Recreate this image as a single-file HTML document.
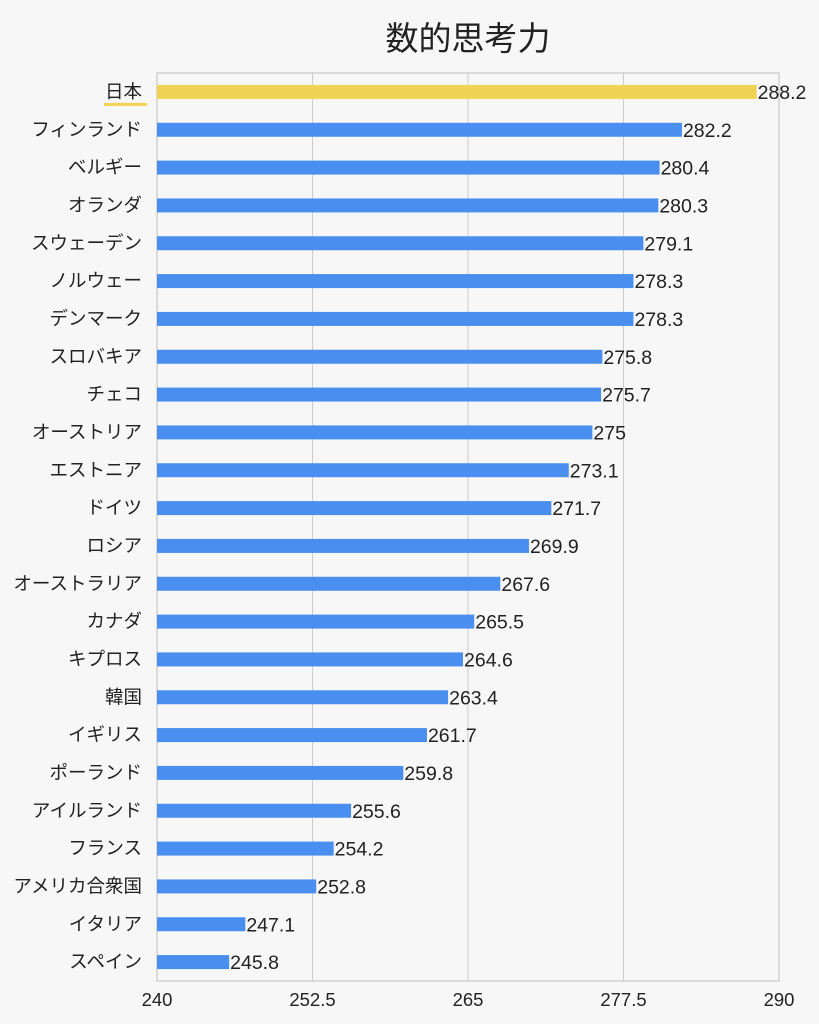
<!DOCTYPE html>
<html><head><meta charset="utf-8"><style>
body{margin:0;background:#f7f7f7;}
svg{display:block;font-family:"Liberation Sans","Noto Sans CJK JP",sans-serif;}
</style></head><body>
<svg id="c" width="819" height="1024">
<rect width="819" height="1024" fill="#f7f7f7"/>
<text x="468" y="50" font-size="33" text-anchor="middle" fill="#222">数的思考力</text>
</svg>
<script>
const categories=["日本","フィンランド","ベルギー","オランダ","スウェーデン","ノルウェー","デンマーク","スロバキア","チェコ","オーストリア","エストニア","ドイツ","ロシア","オーストラリア","カナダ","キプロス","韓国","イギリス","ポーランド","アイルランド","フランス","アメリカ合衆国","イタリア","スペイン"];
const values=[288.2,282.2,280.4,280.3,279.1,278.3,278.3,275.8,275.7,275,273.1,271.7,269.9,267.6,265.5,264.6,263.4,261.7,259.8,255.6,254.2,252.8,247.1,245.8];
const ticks=[240,252.5,265,277.5,290];
const NS="http://www.w3.org/2000/svg";
const svg=document.getElementById('c');
const L=157,R=779,T=73,B=981;
const x=v=>L+(v-240)/(290-240)*(R-L);
const band=(B-T)/categories.length;
const y=i=>T+band*(i+0.5);
function mk(t,a,p){const e=document.createElementNS(NS,t);for(const k in a)e.setAttribute(k,a[k]);(p||svg).appendChild(e);return e;}
ticks.forEach((t,i)=>{
 if(i>0&&i<ticks.length-1){const g=mk('line',{x1:x(t),x2:x(t),y1:T,y2:B,stroke:'#cccccc','stroke-width':1});
 
 }
 const tl=mk('text',{x:x(t),y:1006,'font-size':18.5,'text-anchor':'middle',fill:'#222'});tl.textContent=t;
 
 
});
const fr=mk('rect',{x:L,y:T,width:R-L,height:B-T,fill:'none',stroke:'#c8c8c8','stroke-width':1.2});


categories.forEach((c,i)=>{
 const cy=y(i);
 const b=mk('rect',{x:L,y:cy-7,width:x(values[i])-L,height:14,fill:i===0?'#f0d352':'#4a8ff0'});
 
 
 const lb=mk('text',{x:142,y:cy+6,'font-size':18.5,'text-anchor':'end',fill:'#222'});lb.textContent=c;
 
 
 const vl=mk('text',{x:x(values[i])+1,y:cy+7,'font-size':19.5,fill:'#222'});vl.textContent=values[i];
 
 
 if(i===0){const u=mk('rect',{x:104,y:cy+11,width:43,height:3,fill:'#f0d352'});
 
 }
});
</script>
</body></html>
